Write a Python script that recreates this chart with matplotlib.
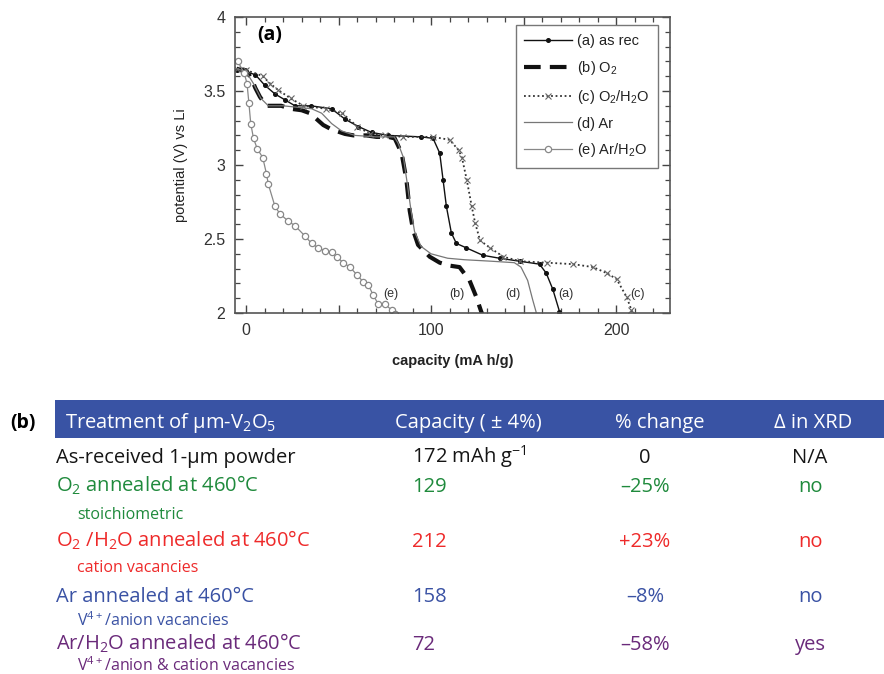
import numpy as np
import matplotlib
matplotlib.use("Agg")
import matplotlib.pyplot as plt
from matplotlib.patches import Rectangle
from matplotlib.ticker import MultipleLocator

plt.rcParams['font.family'] = ['Liberation Sans', 'DejaVu Sans']
plt.rcParams['mathtext.default'] = 'regular'

# discharge curves: capacity (mA h/g), potential (V)
cap_a = [-5, 0, 5, 10, 15.6, 21, 26.4, 35, 46.2, 53.4, 60.6, 67.8, 76.7, 94.7, 101,
         104.6, 106.4, 108.2, 110.9, 113.6, 119, 127.9, 136.9, 147.7, 158.5, 162.1,
         165.7, 169.3, 170.5]
pot_a = [3.64, 3.63, 3.61, 3.54, 3.48, 3.44, 3.40, 3.40, 3.38, 3.31, 3.26, 3.22, 3.20,
         3.19, 3.18, 3.08, 2.90, 2.72, 2.54, 2.47, 2.44, 2.39, 2.37, 2.35, 2.33, 2.27,
         2.16, 2.01, 1.98]

cap_b = [-5, 0, 3, 5, 7.5, 11, 19, 24, 30, 34.5, 41.7, 46.2, 53.4, 58, 65, 70.4, 76.7,
         80.3, 84, 86.6, 88.4, 90.2, 92.9, 99.2, 104.6, 110, 115.3, 120.7, 124.3, 127,
         128]
pot_b = [3.65, 3.64, 3.58, 3.52, 3.46, 3.40, 3.40, 3.38, 3.37, 3.35, 3.27, 3.24, 3.21,
         3.20, 3.20, 3.19, 3.19, 3.18, 3.08, 2.90, 2.69, 2.56, 2.46, 2.38, 2.34, 2.32,
         2.31, 2.22, 2.11, 2.01, 1.98]

cap_c = [-5, 0, 5, 9, 13, 17, 24, 31, 43, 52, 60, 67, 75, 85, 101, 110, 114.8, 116.6,
         119.2, 121.9, 123.7, 126.4, 131.8, 139, 148, 162.3, 176.7, 187.5, 194.7,
         200.1, 205.5, 208.2, 209.5]
pot_c = [3.65, 3.64, 3.62, 3.60, 3.55, 3.51, 3.45, 3.40, 3.38, 3.35, 3.26, 3.21, 3.20,
         3.19, 3.19, 3.17, 3.10, 3.05, 2.90, 2.72, 2.61, 2.49, 2.44, 2.38, 2.35, 2.34,
         2.33, 2.31, 2.27, 2.23, 2.11, 2.02, 1.98]

cap_d = [-5, 0, 4, 8, 12, 20, 35.4, 40.8, 46.2, 51.6, 58.8, 70, 80, 82, 85, 87, 89, 91,
         94.5, 99.9, 108.9, 117.9, 132.3, 144.9, 148.5, 152.1, 154.8, 156.6, 157]
pot_d = [3.65, 3.63, 3.55, 3.45, 3.40, 3.40, 3.38, 3.35, 3.28, 3.23, 3.20, 3.19, 3.19,
         3.15, 3.05, 2.88, 2.70, 2.55, 2.45, 2.40, 2.37, 2.36, 2.35, 2.34, 2.31, 2.22,
         2.09, 2.01, 1.98]

cap_e = [-4.5, -1, 0.5, 1.5, 2.5, 4, 6, 9, 11, 12, 15.6, 18.3, 22.8, 26.4, 31.8, 35.4,
         39, 42.6, 46.2, 48.9, 52.5, 56.1, 59.7, 63.3, 66, 68.7, 71.4, 75, 78.6, 80.4]
pot_e = [3.70, 3.62, 3.55, 3.42, 3.28, 3.18, 3.11, 3.05, 2.94, 2.87, 2.72, 2.67, 2.62,
         2.59, 2.52, 2.47, 2.44, 2.42, 2.41, 2.38, 2.34, 2.31, 2.26, 2.21, 2.19, 2.12,
         2.06, 2.06, 2.02, 1.99]

curve_tags = ['(e)', '(b)', '(d)', '(a)', '(c)']
tag_cap = [78, 114, 144, 173, 211.5]
tag_pot = [2.13, 2.13, 2.13, 2.13, 2.13]

# table (b)
headers = ["Treatment of \u03bcm-V$_2$O$_5$", "Capacity ( \u00b1 4%)", "% change", "\u0394 in XRD"]
treatments = ["As-received 1-\u03bcm powder", "O$_2$ annealed at 460\u00b0C",
              "O$_2$ /H$_2$O annealed at 460\u00b0C", "Ar annealed at 460\u00b0C",
              "Ar/H$_2$O annealed at 460\u00b0C"]
notes = ["", "stoichiometric", "cation vacancies", "V$^{4+}$/anion vacancies",
         "V$^{4+}$/anion & cation vacancies"]
capacities = ["172 mAh g$^{-1}$", "129", "212", "158", "72"]
changes = ["0", "\u201325%", "+23%", "\u20138%", "\u201358%"]
xrd = ["N/A", "no", "no", "no", "yes"]
row_colors = ['#151515', '#1f8a3c', '#ee2a2a', '#3a52a4', '#6a2a7a']

W, H = 884, 674
fig = plt.figure(figsize=(W / 100, H / 100), dpi=100)

# ---- table, drawn in pixel coordinates
tab = fig.add_axes([0, 0, 1, 1])
tab.set_xlim(0, W)
tab.set_ylim(H, 0)
tab.axis('off')
tab.add_patch(Rectangle((55, 400), W - 55, 38, color='#3953a4', lw=0))
tab.text(10, 428, '(b)', fontsize=14, fontweight='bold', family='Open Sans', va='baseline')

tfont = 'Open Sans'
tab.text(65, 428, headers[0], color='white', fontsize=14.5, family=tfont, va='baseline')
for x, h in zip([468, 660, 813], headers[1:]):
    tab.text(x, 428, h, color='white', fontsize=14.5, family=tfont, va='baseline', ha='center')

row_base = [463, 492, 547, 602, 650]
note_base = [0, 519, 572, 626, 671]
for i in range(len(treatments)):
    c = row_colors[i]
    yb = row_base[i]
    tab.text(56, yb, treatments[i], color=c, fontsize=14.5, family=tfont, va='baseline')
    tab.text(412, yb, capacities[i], color=c, fontsize=14.5, family=tfont, va='baseline')
    tab.text(645, yb, changes[i], color=c, fontsize=14.5, family=tfont, va='baseline', ha='center')
    tab.text(810, yb, xrd[i], color=c, fontsize=14.5, family=tfont, va='baseline', ha='center')
    if notes[i]:
        tab.text(77, note_base[i], notes[i], color=c, fontsize=11.5, family=tfont, va='baseline')

# ---- discharge plot (a)
ax = fig.add_axes([235 / W, 1 - 313 / H, 435 / W, 296 / H])
ax.plot(cap_a, pot_a, color='#111111', lw=1.0, marker='o', ms=2.6, markevery=0.016,
        label='(a) as rec')
ax.plot(cap_b, pot_b, color='#111111', lw=3.0, dashes=(4, 2.2), label='(b) O$_2$')
ax.plot(cap_c, pot_c, color='#333333', lw=1.3, ls=(0, (1, 1.5)), marker='x', ms=4,
        mec='#666666', mew=0.8, markevery=0.022, label='(c) O$_2$/H$_2$O')
ax.plot(cap_d, pot_d, color='#777777', lw=0.9, label='(d) Ar')
ax.plot(cap_e, pot_e, color='#888888', lw=0.9, marker='o', ms=4.5, mfc='white',
        mec='#888888', mew=0.9, label='(e) Ar/H$_2$O')

for t, x, y in zip(curve_tags, tag_cap, tag_pot):
    ax.text(x, y, t, fontsize=9, color='#333333', ha='center', va='center')
ax.text(6, 3.88, '(a)', fontsize=14, fontweight='bold', ha='left', va='center',
        family='Open Sans')

ax.set_xlim(-6, 229)
ax.set_ylim(2, 4)
ax.set_xticks([0, 50, 100, 150, 200])
ax.set_xticklabels(['0', '', '100', '', '200'])
ax.set_yticks([2, 2.5, 3, 3.5, 4])
ax.set_yticklabels(['2', '2.5', '3', '3.5', '4'])
ax.xaxis.set_minor_locator(MultipleLocator(10))
ax.yaxis.set_minor_locator(MultipleLocator(0.1))
ax.tick_params(which='both', direction='in', top=True, right=True, color='#444444')
ax.tick_params(which='major', length=6, width=1.0, labelsize=11.5, labelcolor='#333333', pad=7)
ax.tick_params(which='minor', length=3.5, width=0.9)
for s in ax.spines.values():
    s.set_color('#555555')
    s.set_linewidth(1.2)

ax.set_xlabel('capacity (mA h/g)', fontsize=10.5, fontweight='bold', color='#222222')
ax.set_ylabel('potential (V) vs Li', fontsize=10.5, color='#222222')
ax.xaxis.set_label_coords(0.5, -0.14)
ax.yaxis.set_label_coords(-0.108, 0.5)

leg = ax.legend(loc='upper right', bbox_to_anchor=(0.972, 0.973), borderaxespad=0,
                fontsize=10.5, numpoints=1, handlelength=3.3, handletextpad=0.3,
                labelspacing=0.75, borderpad=0.6, fancybox=False, framealpha=1,
                edgecolor='#777777')
leg.get_frame().set_linewidth(1.0)
for txt in leg.get_texts():
    txt.set_color('#222222')

fig.savefig('out.png', dpi=100)
